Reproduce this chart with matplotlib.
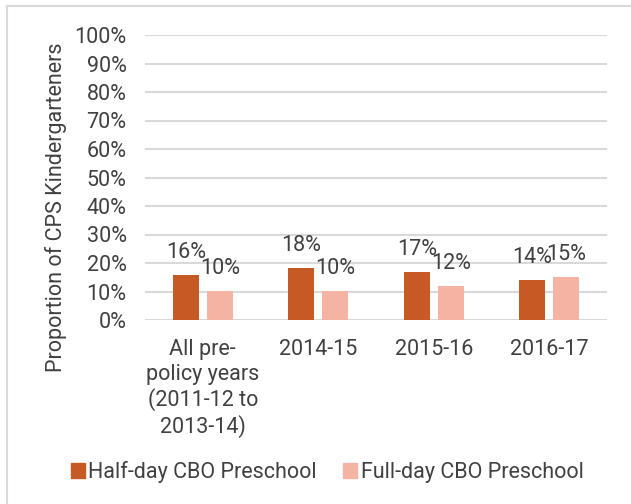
import matplotlib
matplotlib.use("Agg")
import matplotlib.pyplot as plt
import numpy as np
from matplotlib.patches import Rectangle
from matplotlib.lines import Line2D

categories = ["All pre-\npolicy years\n(2011-12 to\n2013-14)", "2014-15", "2015-16", "2016-17"]
series_names = ["Half-day CBO Preschool", "Full-day CBO Preschool"]
half_day = [0.157, 0.181, 0.168, 0.139]
full_day = [0.102, 0.102, 0.120, 0.151]
yticks = [0, 0.1, 0.2, 0.3, 0.4, 0.5, 0.6, 0.7, 0.8, 0.9, 1.0]

dark = "#C55A24"
light = "#F4B3A3"
text_c = "#404040"
grid_c = "#D9D9D9"
fs = 15.5

plt.rcParams['font.family'] = ['Roboto', 'DejaVu Sans']

fig = plt.figure(figsize=(6.31, 5.04), dpi=100)
ax = fig.add_axes([145/631, 1-320/504, 462/631, 285/504])

x = np.arange(len(categories))
w = 0.225
off = 0.147
b1 = ax.bar(x - off, half_day, w, color=dark, zorder=3)
b2 = ax.bar(x + off, full_day, w, color=light, zorder=3)

for bars, vals in ((b1, half_day), (b2, full_day)):
    for r, v in zip(bars, vals):
        ax.annotate(f"{round(v*100):.0f}%", (r.get_x() + r.get_width()/2, v),
                    xytext=(0, 17), textcoords="offset pixels",
                    ha="center", va="baseline", fontsize=fs, color=text_c)

ax.set_ylim(0, 1.0)
ax.set_xlim(-0.5, len(categories) - 0.5)
ax.set_yticks(yticks)
ax.set_yticklabels([f"{int(round(t*100))}%" for t in yticks], fontsize=fs, color=text_c)
ax.set_xticks(x)
ax.set_xticklabels(categories, fontsize=fs, color=text_c, linespacing=1.2, va="top")
ax.tick_params(axis="both", length=0)
ax.tick_params(axis="y", pad=13.3)
ax.tick_params(axis="x", pad=14)
ax.yaxis.grid(True, color=grid_c, linewidth=1.5, zorder=0)
for s in ax.spines.values():
    s.set_visible(False)
ax.set_ylabel("Proportion of CPS Kindergarteners", fontsize=fs, color=text_c)
ax.yaxis.set_label_coords(-78/462, 0.395)

# outer frame
fig.add_artist(Line2D([7/631, 7/631], [0, 1-6/504], transform=fig.transFigure, color=grid_c, lw=1.5))
fig.add_artist(Line2D([7/631, 1], [1-6/504, 1-6/504], transform=fig.transFigure, color=grid_c, lw=1.5))

handles = [Rectangle((0, 0), 1, 1, color=dark), Rectangle((0, 0), 1, 1, color=light)]
fig.legend(handles, series_names, loc="center", bbox_to_anchor=(327/631, 1-472/504), ncol=2,
           frameon=False, fontsize=fs, handlelength=0.65, handleheight=0.65, handletextpad=0.15,
           columnspacing=1.25, labelcolor=text_c)

fig.savefig("out.png", dpi=100)
